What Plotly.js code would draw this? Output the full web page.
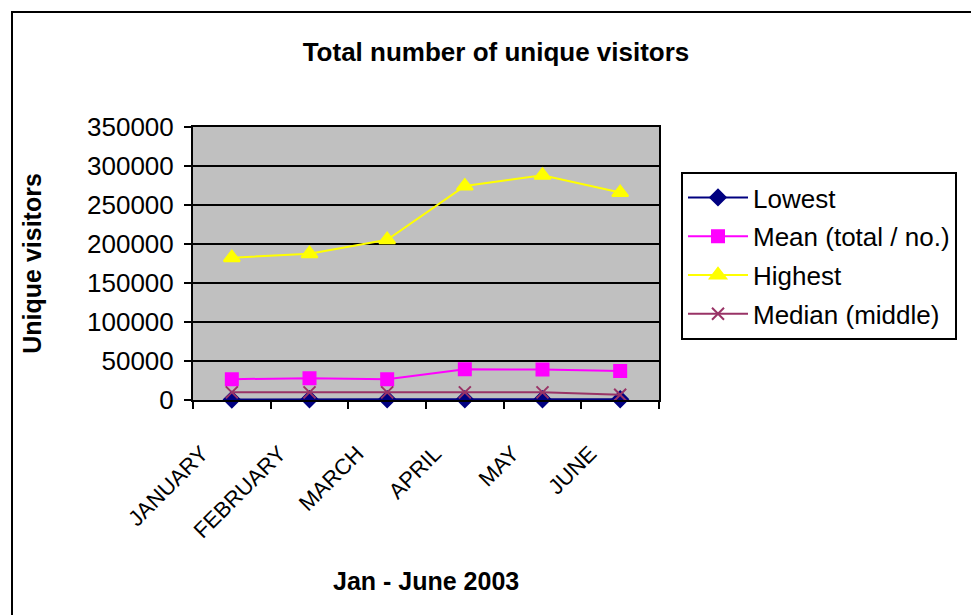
<!DOCTYPE html>
<html>
<head>
<meta charset="utf-8">
<script src="https://cdn.plot.ly/plotly-3.0.1.min.js"></script>
<style>
html,body{margin:0;padding:0;background:#fff;}
#chart{width:971px;height:615px;}
</style>
</head>
<body>
<div id="chart"></div>
<script>
const months = ["JANUARY","FEBRUARY","MARCH","APRIL","MAY","JUNE"];
const lowest = [500, 1000, 1000, 1000, 1000, 1000];
const mean = [26700, 28000, 26500, 39400, 39000, 37300];
const highest = [182500, 187500, 205500, 274300, 288000, 266000];
const median = [9800, 9800, 9800, 9800, 9800, 6800];

const font = "'Liberation Sans', Arial, sans-serif";

const traces = [
  {name:"Lowest", y:lowest, color:"#000080", symbol:"diamond", size:12},
  {name:"Mean (total / no.)", y:mean, color:"#FF00FF", symbol:"square", size:12},
  {name:"Highest", y:highest, color:"#FFFF00", symbol:"triangle-up", size:14},
  {name:"Median (middle)", y:median, color:"#993366", symbol:"x-thin-open", size:12}
].map((t,i)=>({
  type:"scatter", mode:"lines+markers", x:months, y:t.y, name:t.name,
  legendgroup:"g"+i, cliponaxis:false,
  line:{color:t.color, width:2},
  marker:{color:t.color, symbol:t.symbol, size:t.size, line:{color:t.color, width:2}}
}));

const layout = {
  width:971, height:615,
  margin:{l:193, r:312, t:127, b:215},
  paper_bgcolor:"#ffffff",
  plot_bgcolor:"#C0C0C0",
  font:{family:font, color:"#000"},
  showlegend:true,
  title:{text:"<b>Total number of unique visitors</b>", font:{size:26, family:font, color:"#000"},
         xref:"paper", x:(496-193)/466, xanchor:"center", yref:"container", y:1-52/615, yanchor:"middle"},
  xaxis:{
    type:"category", range:[-0.5,5.5], tickson:"boundaries",
    ticks:"outside", ticklen:7, tickwidth:2, tickcolor:"#000",
    showline:true, linecolor:"#000", linewidth:2, mirror:true,
    showgrid:false, zeroline:false,
    tickangle:-45, tickfont:{size:22, family:font, color:"#000"},
    ticklabelstandoff:30, ticklabelshift:-30
  },
  yaxis:{
    range:[0,350000], dtick:50000, tick0:0, tickformat:"d",
    ticks:"outside", ticklen:7, tickwidth:2, tickcolor:"#000",
    showline:true, linecolor:"#000", linewidth:2, mirror:true,
    showgrid:true, gridcolor:"#000", gridwidth:2, zeroline:false,
    tickfont:{size:26, family:font, color:"#000"}, ticklabelstandoff:5,
    title:{text:"<b>Unique visitors</b>", font:{size:25, family:font, color:"#000"}, standoff:38}
  },
  legend:{
    x:(681-193)/466, xanchor:"left", y:(400-172)/273, yanchor:"top",
    bgcolor:"#fff", bordercolor:"#000", borderwidth:2,
    font:{size:26, family:font, color:"#000"},
    traceorder:"grouped", tracegroupgap:2, itemwidth:60
  },
  annotations:[{
    text:"<b>Jan - June 2003</b>", showarrow:false,
    xref:"paper", x:0.5, xanchor:"center",
    yref:"paper", y:-(581-400)/273, yanchor:"middle",
    font:{size:25, family:font, color:"#000"}
  }],
  shapes:[{
    type:"rect", xref:"paper", yref:"paper",
    x0:(12-193)/466, x1:(990-193)/466, y0:(400-640)/273, y1:(400-12)/273,
    line:{color:"#000", width:2}, fillcolor:"rgba(0,0,0,0)", layer:"below"
  }]
};

Plotly.newPlot("chart", traces, layout, {displayModeBar:false, staticPlot:true});
</script>
</body>
</html>
